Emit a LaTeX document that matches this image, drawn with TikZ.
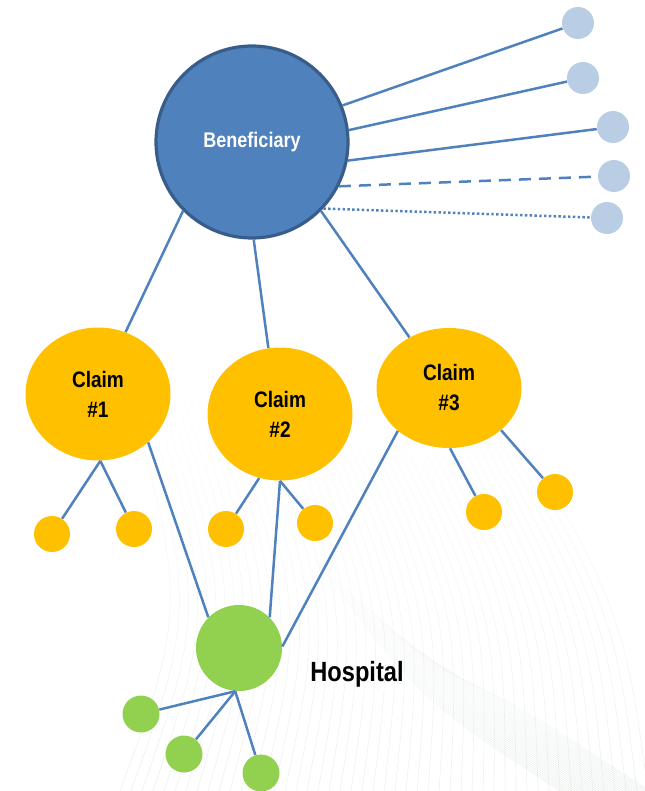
\documentclass[tikz,border=0pt]{standalone}
\usepackage{fontspec}
\setmainfont{Liberation Sans}[FakeStretch=0.85]
\usetikzlibrary{shapes.geometric,fadings}
\definecolor{benblue}{HTML}{4F81BD}
\definecolor{benedge}{HTML}{385D8A}
\definecolor{leafblue}{HTML}{B9CDE5}
\definecolor{claimgold}{HTML}{FFC000}
\definecolor{hospgreen}{HTML}{92D050}
\definecolor{linkblue}{HTML}{4F81BD}
\definecolor{meshgrey}{HTML}{D5E2DA}
\begin{document}
\begin{tikzpicture}[x=0.5pt,y=-0.5pt,
  link/.style={draw=linkblue, line width=1.25pt},
  hub/.style={circle, fill=benblue, draw=benedge, line width=1.6pt, minimum size=96pt, inner sep=0pt,
    text=white, font=\bfseries\fontsize{10.6}{12}\selectfont},
  leaf/.style={circle, fill=leafblue, minimum size=16pt, inner sep=0pt},
  claimnode/.style={ellipse, fill=claimgold, minimum width=72.5pt, minimum height=66.5pt, inner sep=0pt,
    align=center, font=\bfseries\fontsize{11.2}{15}\selectfont},
  claimdot/.style={circle, fill=claimgold, minimum size=18pt, inner sep=0pt},
  hospnode/.style={circle, fill=hospgreen, minimum size=43pt, inner sep=0pt},
  hospdot/.style={circle, fill=hospgreen, minimum size=18.5pt, inner sep=0pt},
  mesh/.style={draw=meshgrey, line width=0.3pt, opacity=0.5, path fading=north}]
\useasboundingbox (0,0) rectangle (644,791);

% faint swoosh of fine lines behind the graph
\foreach \i in {0,...,48}
  \draw[mesh] (100+7*\i,300) .. controls (190+9*\i,600) .. (120+11*\i,791);
\foreach \i in {0,...,30}
  \draw[mesh] (300+4*\i,540+4*\i) .. controls (420+3*\i,700) .. (560+3*\i,791);

% nodes
\node[hub] (ben) at (252,142) {Beneficiary};
\node[leaf] (b1) at (578,23) {};
\node[leaf] (b2) at (583,78) {};
\node[leaf] (b3) at (613,127) {};
\node[leaf] (b4) at (614,176) {};
\node[leaf] (b5) at (607,218) {};

\node[claimnode] (c1) at (98,394) {Claim\\\#1};
\node[claimnode] (c2) at (280,414) {Claim\\\#2};
\node[claimnode, minimum height=60pt] (c3) at (449,388) {Claim\\\#3};

\node[claimdot] (s1a) at (52,534) {};
\node[claimdot] (s1b) at (134,529) {};
\node[claimdot] (s2a) at (226,529) {};
\node[claimdot] (s2b) at (315,523) {};
\node[claimdot] (s3a) at (484,512) {};
\node[claimdot] (s3b) at (555,492) {};

\node[hospnode] (hosp) at (239,648) {};
\node[font=\bfseries\fontsize{13.9}{16}\selectfont] (hosplabel) at (357,674) {Hospital};
\node[hospdot] (g1) at (141,714) {};
\node[hospdot] (g2) at (184,754) {};
\node[hospdot] (g3) at (261,773) {};

% beneficiary to its attributes
\draw[link] (ben.22) -- (b1);
\draw[link] (ben.7) -- (b2);
\draw[link] (ben.-11) -- (b3);
\draw[link, dashed, dash pattern=on 6pt off 4pt] (ben.-27) -- (b4);
\draw[link, dash pattern=on 1.2pt off 1.2pt] (ben.-43) -- (b5);

% beneficiary to claims
\draw[link] (ben.225) -- (c1.66);
\draw[link] (ben.-89) -- (c2.100);
\draw[link] (ben.-45) -- (c3.128);

% claims to their details
\draw[link] (c1.-88) -- (s1a);
\draw[link] (c1.-88) -- (s1b);
\draw[link] (c2.-108) -- (s2a);
\draw[link] (c2.-90) -- (s2b);
\draw[link] (c3.-89) -- (s3a);
\draw[link] (c3.-39) -- (s3b);

% claims to the hospital
\draw[link] (c1.-44) -- (hosp.135);
\draw[link] (c2.-90) -- (hosp.45);
\draw[link] (c3.-140) -- (hosp.2);

% hospital to its details
\draw[link] (hosp.-95) -- (g1);
\draw[link] (hosp.-95) -- (g2);
\draw[link] (hosp.-95) -- (g3);
\end{tikzpicture}
\end{document}
